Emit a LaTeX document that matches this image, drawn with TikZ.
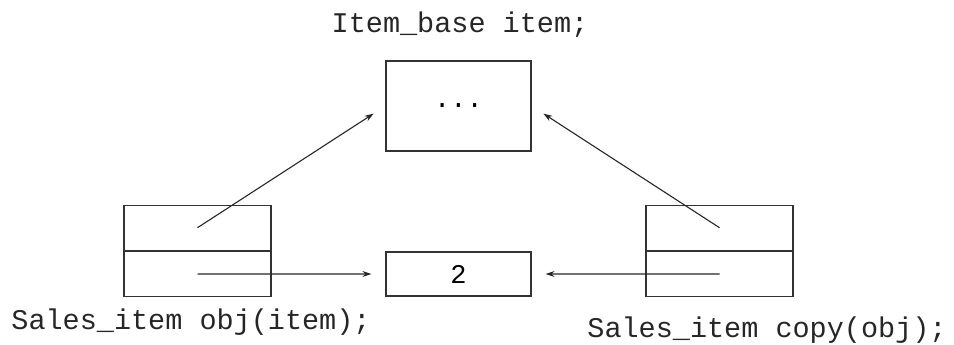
\documentclass[tikz,border=0pt]{standalone}
\usepackage{fontspec}
\setmonofont{Liberation Mono}
\usetikzlibrary{arrows.meta,positioning}
\tikzset{
    %Define standard arrow tip
    >={Stealth[length=9pt,width=6pt]},
    %Define style for boxes
    box/.style={
           rectangle,
           draw=black!80, line width=1.3pt,
           minimum width=145pt,
           minimum height=90pt,
           inner sep=0pt,
           font=\ttfamily\fontsize{27}{30}\selectfont,
           text centered},
    half/.style={
           rectangle,
           draw=black!80, line width=1.3pt,
           minimum width=147pt,
           minimum height=45pt,
           inner sep=0pt},
    lbl/.style={
           inner sep=0pt,
           text=black!85,
           font=\ttfamily\fontsize{28.5}{32}\selectfont},
    % Define arrow style
    pil/.style={
           ->,
           line width=1.1pt,
           draw=black!85,
           shorten >=14pt},
}
\begin{document}
\begin{tikzpicture}[x=1pt,y=-1pt]
\useasboundingbox (0,0) rectangle (954,345);
 %nodes
\node[box](item) at (458.5,106){...};
\node[box, minimum height=44pt](val) at (458.5,274){2};
\node[half](objtop) at (197.5,227.7){};
\node[half, below=0pt of objtop](objbot){};
\node[half](copytop) at (719.5,227.7){};
\node[half, below=0pt of copytop](copybot){};

\node[lbl](itemlbl) at (460,25){Item\_base item;};
\node[lbl](objlbl) at (191,322){Sales\_item obj(item);};
\node[lbl](copylbl) at (767,330){Sales\_item copy(obj);};

 \path
    (objtop.center) edge [pil] (item.west)
    (copytop.center) edge [pil] (item.east)
    (objbot.center) edge [pil] (val.west)
    (copybot.center) edge [pil] (val.east);
\end{tikzpicture}
\end{document}
